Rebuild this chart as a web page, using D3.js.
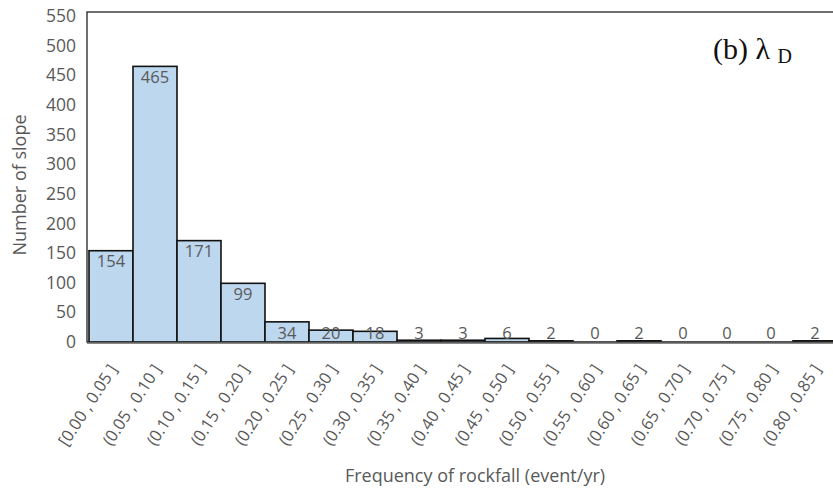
<!DOCTYPE html>
<html>
<head>
<meta charset="utf-8">
<script src="https://cdn.jsdelivr.net/npm/d3@7/dist/d3.min.js"></script>
<style>
  body { margin: 0; background: #fff; }
  svg { display: block; }
</style>
</head>
<body>
<svg id="chart" width="833" height="491"></svg>
<script>
// Frequency bins of rockfall (event/yr)
const categories = [
  "[0.00 , 0.05 ]", "(0.05 , 0.10 ]", "(0.10 , 0.15 ]", "(0.15 , 0.20 ]",
  "(0.20 , 0.25 ]", "(0.25 , 0.30 ]", "(0.30 , 0.35 ]", "(0.35 , 0.40 ]",
  "(0.40 , 0.45 ]", "(0.45 , 0.50 ]", "(0.50 , 0.55 ]", "(0.55 , 0.60 ]",
  "(0.60 , 0.65 ]", "(0.65 , 0.70 ]", "(0.70 , 0.75 ]", "(0.75 , 0.80 ]",
  "(0.80 , 0.85 ]"
];
// Number of slopes in each bin
const counts = [154, 465, 171, 99, 34, 20, 18, 3, 3, 6, 2, 0, 2, 0, 0, 0, 2];
const yTicks = [0, 50, 100, 150, 200, 250, 300, 350, 400, 450, 500, 550];

const svg = d3.select("#chart");
const font = "'Open Sans', 'Noto Sans', sans-serif";
const grey = "#595959";

const plotLeft = 89, plotRight = 837, plotTop = 12, plotBottom = 342;

const x = d3.scaleBand().domain(categories).range([plotLeft, plotRight]).padding(0);
const y = d3.scaleLinear().domain([0, 550]).range([plotBottom, 16]);

// plot frame
svg.append("rect")
  .attr("x", 87).attr("y", plotTop)
  .attr("width", 760).attr("height", plotBottom - plotTop)
  .attr("fill", "none").attr("stroke", "#222").attr("stroke-width", 1.3);

// bars (empty bins draw nothing)
svg.append("g").selectAll("rect")
  .data(categories.map((c, i) => ({ c, v: counts[i] })).filter(d => d.v > 0))
  .join("rect")
  .attr("x", d => x(d.c))
  .attr("y", d => y(d.v))
  .attr("width", x.bandwidth())
  .attr("height", d => y(0) - y(d.v))
  .attr("fill", "#BDD7EE")
  .attr("stroke", "#111")
  .attr("stroke-width", 1.6);

// x axis line
svg.append("line")
  .attr("x1", 87).attr("x2", 833)
  .attr("y1", plotBottom + 1).attr("y2", plotBottom + 1)
  .attr("stroke", "#8a8a8a").attr("stroke-width", 2);
svg.append("line")
  .attr("x1", 87).attr("x2", 833)
  .attr("y1", plotBottom).attr("y2", plotBottom)
  .attr("stroke", "#333").attr("stroke-width", 1);

// value labels
svg.append("g").selectAll("text")
  .data(counts)
  .join("text")
  .attr("x", (d, i) => x(categories[i]) + x.bandwidth() / 2)
  .attr("y", d => Math.min(y(d) + 11, 333))
  .attr("dy", "0.35em")
  .attr("text-anchor", "middle")
  .attr("font-family", font)
  .attr("font-size", 16.5)
  .attr("fill", grey)
  .text(d => d);

// y axis tick labels
const yAxis = d3.axisLeft(y).tickValues(yTicks).tickSize(0).tickPadding(0);
const yg = svg.append("g").attr("transform", "translate(76,0)").call(yAxis);
yg.select(".domain").remove();
yg.selectAll("text")
  .attr("font-family", font)
  .attr("font-size", 17.5)
  .attr("fill", grey);

// x axis tick labels (rotated)
const xAxis = d3.axisBottom(x).tickSize(0).tickPadding(0);
const xg = svg.append("g").attr("transform", `translate(0,${plotBottom})`).call(xAxis);
xg.select(".domain").remove();
xg.selectAll("text")
  .attr("font-family", font)
  .attr("font-size", 16.5)
  .attr("fill", grey)
  .attr("text-anchor", "end")
  .attr("dy", "0.35em")
  .attr("transform", "translate(2,24) rotate(-57)")
  .attr("x", 0).attr("y", 0);

// axis titles
svg.append("text")
  .attr("x", 475).attr("y", 482)
  .attr("text-anchor", "middle")
  .attr("font-family", font)
  .attr("font-size", 18)
  .attr("fill", grey)
  .text("Frequency of rockfall (event/yr)");

svg.append("text")
  .attr("transform", "translate(26,185) rotate(-90)")
  .attr("text-anchor", "middle")
  .attr("font-family", font)
  .attr("font-size", 18)
  .attr("fill", grey)
  .text("Number of slope");

// panel label
const lab = svg.append("text")
  .attr("x", 713).attr("y", 59)
  .attr("font-family", "'Liberation Serif', 'DejaVu Serif', serif")
  .attr("font-size", 30)
  .attr("fill", "#111");
lab.append("tspan").text("(b) λ ");
lab.append("tspan").attr("font-size", 20).attr("dy", 4).text("D");
</script>
</body>
</html>
